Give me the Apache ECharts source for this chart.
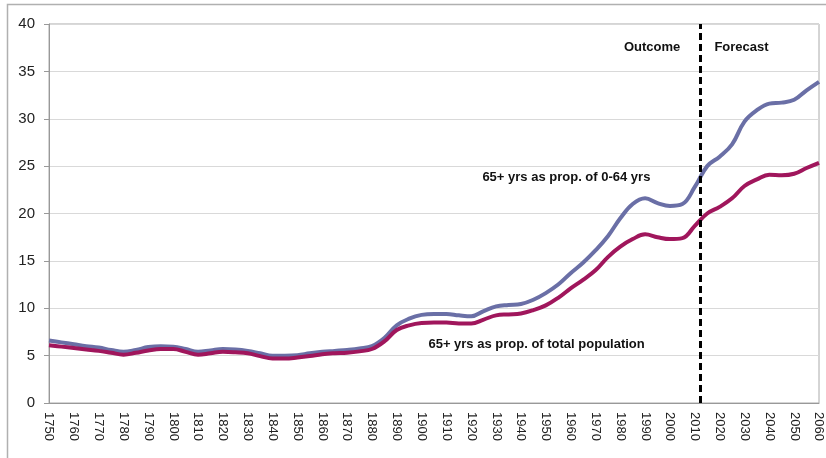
<!DOCTYPE html>
<html>
<head>
<meta charset="utf-8">
<script src="https://cdn.jsdelivr.net/npm/echarts@6/dist/echarts.min.js"></script>
<style>
  html, body { margin: 0; padding: 0; background: #fff; }
  #chart { width: 826px; height: 458px; }
</style>
</head>
<body>
<div id="chart"></div>
<script>
const years = [
  1750, 1755, 1760, 1765, 1770, 1775, 1780, 1785, 1790, 1795,
  1800, 1805, 1810, 1815, 1820, 1825, 1830, 1835, 1840, 1845,
  1850, 1855, 1860, 1865, 1870, 1875, 1880, 1885, 1890, 1895,
  1900, 1905, 1910, 1915, 1920, 1925, 1930, 1935, 1940, 1945,
  1950, 1955, 1960, 1965, 1970, 1975, 1980, 1985, 1990, 1995,
  2000, 2005, 2010, 2015, 2020, 2025, 2030, 2035, 2040, 2045,
  2050, 2055, 2060
];

// 65+ as share of 0-64 yrs
const ratioWorking = [
  6.6, 6.4, 6.2, 6.0, 5.85, 5.6, 5.4, 5.6, 5.9, 6.0,
  5.95, 5.7, 5.4, 5.55, 5.7, 5.65, 5.5, 5.25, 5.0, 5.0,
  5.05, 5.25, 5.4, 5.5, 5.6, 5.75, 6.0, 6.85, 8.2, 8.9,
  9.3, 9.4, 9.4, 9.25, 9.15, 9.7, 10.2, 10.35, 10.45, 10.9,
  11.6, 12.5, 13.7, 14.8, 16.1, 17.6, 19.5, 21.0, 21.6, 21.1,
  20.8, 21.0, 22.8, 25.0, 26.0, 27.3, 29.7, 30.9, 31.6, 31.7,
  32.0, 33.0, 33.9
];

// 65+ as share of total population
const ratioTotal = [
  6.1, 5.95, 5.8, 5.65, 5.5, 5.3, 5.1, 5.3, 5.55, 5.7,
  5.7, 5.4, 5.1, 5.25, 5.4, 5.35, 5.25, 4.95, 4.7, 4.7,
  4.8, 4.95, 5.15, 5.25, 5.3, 5.45, 5.7, 6.5, 7.7, 8.2,
  8.45, 8.5, 8.5, 8.4, 8.4, 8.8, 9.25, 9.35, 9.45, 9.8,
  10.3, 11.1, 12.1, 13.0, 14.0, 15.4, 16.5, 17.3, 17.8, 17.5,
  17.3, 17.4, 18.7, 20.0, 20.7, 21.6, 22.9, 23.6, 24.1, 24.05,
  24.2, 24.8, 25.35
];

const forecastStart = 2012;

const notes = [
  { text: "Outcome", coord: [1992.8, 37.5] },
  { text: "Forecast", coord: [2028.8, 37.5] },
  { text: "65+ yrs as prop. of 0-64 yrs", coord: [1958.3, 23.85] },
  { text: "65+ yrs as prop. of total population", coord: [1946.3, 6.15] }
];

const chart = echarts.init(document.getElementById("chart"));
const font = "Liberation Sans, Arial, sans-serif";

chart.setOption({
  animation: false,
  textStyle: { fontFamily: font },
  graphic: [{
    type: "rect",
    shape: { x: 7.5, y: 4.5, width: 840, height: 470 },
    style: { fill: "none", stroke: "#b0b0b0", lineWidth: 1.5 },
    silent: true
  }],
  grid: { left: 49, right: 7, top: 24, bottom: 55, show: true, borderColor: "#aaaaaa", borderWidth: 1 },
  xAxis: {
    type: "value",
    min: 1750,
    max: 2060,
    interval: 10,
    axisLine: { show: true, lineStyle: { color: "#999999" } },
    axisTick: { show: false },
    splitLine: { show: false },
    axisLabel: {
      rotate: -90,
      margin: 9,
      color: "#222222",
      fontSize: 13,
      fontFamily: font,
      formatter: (v) => String(v)
    }
  },
  yAxis: {
    type: "value",
    min: 0,
    max: 40,
    interval: 5,
    axisLine: { show: true, lineStyle: { color: "#999999" } },
    axisTick: { show: true, length: 5, lineStyle: { color: "#999999" } },
    splitLine: { lineStyle: { color: "#d9d9d9" } },
    axisLabel: { color: "#222222", fontSize: 15, margin: 14, fontFamily: font }
  },
  series: [
    {
      type: "line",
      smooth: 0.4,
      showSymbol: false,
      data: years.map((y, i) => [y, ratioWorking[i]]),
      lineStyle: { color: "#6a6fa6", width: 4 },
      itemStyle: { color: "#6a6fa6" },
      markLine: {
        silent: true,
        symbol: "none",
        label: { show: false },
        lineStyle: { color: "#000000", width: 3, type: [7, 4] },
        data: [{ xAxis: forecastStart }]
      }
    },
    {
      type: "line",
      smooth: 0.4,
      showSymbol: false,
      data: years.map((y, i) => [y, ratioTotal[i]]),
      lineStyle: { color: "#a0165c", width: 4 },
      itemStyle: { color: "#a0165c" },
      markPoint: {
        silent: true,
        symbol: "circle",
        symbolSize: 0,
        label: {
          show: true,
          position: "inside",
          color: "#111111",
          fontWeight: "bold",
          fontSize: 13,
          fontFamily: font,
          formatter: (p) => p.name
        },
        data: notes.map((n) => ({ name: n.text, coord: n.coord }))
      }
    }
  ]
});
</script>
</body>
</html>
